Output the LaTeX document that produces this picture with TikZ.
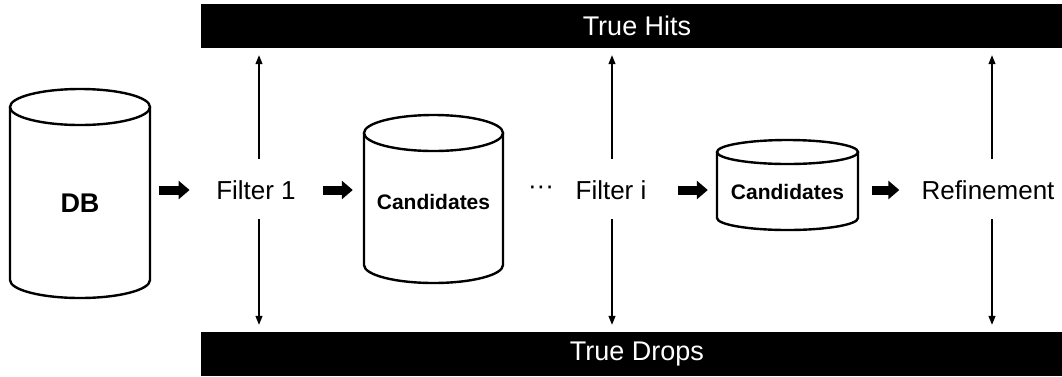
\documentclass[tikz,border=0pt]{standalone}
\usepackage{fontspec}
\setmainfont{Liberation Sans}
\usetikzlibrary{arrows.meta}
\newcommand{\mycyl}[5]{%
  \draw[cylline] (#1-#4,#2) -- (#1-#4,#3) arc[start angle=180,end angle=0,x radius=#4,y radius=#5] -- (#1+#4,#2);
  \draw[cylline] (#1,#2) ellipse[x radius=#4,y radius=#5];
}
\begin{document}
\begin{tikzpicture}[x=1pt,y=-1pt,
  bar/.style={fill=black, draw=none, inner sep=0, minimum width=861pt, minimum height=44pt},
  bartext/.style={text=white, inner sep=0, font=\fontsize{27}{32}\selectfont},
  lbl/.style={inner sep=0, font=\fontsize{26}{31}\selectfont},
  cyltext/.style={inner sep=0, font=\fontsize{21}{25}\selectfont\bfseries},
  cylline/.style={line width=2.4pt, fill=white},
  blk/.style={line width=9pt, -{Triangle[length=11pt,width=18pt]}},
  vert/.style={line width=1.2pt, -{Triangle[length=9pt,width=7pt]}, shorten >=7pt}
]
\useasboundingbox (0,0) rectangle (1062,376);
% bars
\node[bar] (hits) at (631.5,26) {};
\node[bartext] (hitstxt) at (637,26) {True Hits};
\node[bar] (drops) at (631.5,354) {};
\node[bartext] (dropstxt) at (637,354) {True Drops};
% cylinders
\mycyl{80}{107}{280}{70}{18}
\node[inner sep=0, minimum width=140pt, minimum height=191pt] (db) at (80,193.5) {};
\node[inner sep=0, font=\fontsize{27}{32}\selectfont\bfseries] (dbtxt) at (80,203) {DB};
\mycyl{433.5}{133}{265}{69.5}{18}
\node[inner sep=0, minimum width=139pt, minimum height=150pt] (c1) at (433.5,199) {};
\node[cyltext] (c1txt) at (433.5,202) {Candidates};
\mycyl{787.5}{152}{218}{70.5}{12}
\node[inner sep=0, minimum width=141pt, minimum height=78pt] (c2) at (787.5,185) {};
\node[cyltext] (c2txt) at (787.5,192) {Candidates};
% labels
\node[lbl] (f1) at (256,190) {Filter 1};
\node[lbl] (dots) at (541,190) {···};
\node[lbl] (fi) at (611,190) {Filter i};
\node[lbl] (ref) at (988,190) {Refinement};
% block arrows
\draw[blk, shorten <=9pt, shorten >=26.5pt] (db.east |- f1.west) -- (f1.west);
\draw[blk, shorten <=27.5pt, shorten >=11pt] (f1.east) -- (c1.west |- f1.east);
\draw[blk, shorten <=31pt, shorten >=9pt] (fi.east) -- (c2.west |- fi.east);
\draw[blk, shorten <=14pt, shorten >=22pt] (c2.east |- ref.west) -- (ref.west);
% vertical arrows
\coordinate (f1up) at (259,159);
\coordinate (f1dn) at (259,219);
\coordinate (fiup) at (612,159);
\coordinate (fidn) at (612,219);
\coordinate (refup) at (992,159);
\coordinate (refdn) at (992,219);
\draw[vert] (f1up) -- (f1up |- hits.south);
\draw[vert] (f1dn) -- (f1dn |- drops.north);
\draw[vert] (fiup) -- (fiup |- hits.south);
\draw[vert] (fidn) -- (fidn |- drops.north);
\draw[vert] (refup) -- (refup |- hits.south);
\draw[vert] (refdn) -- (refdn |- drops.north);
\end{tikzpicture}
\end{document}
